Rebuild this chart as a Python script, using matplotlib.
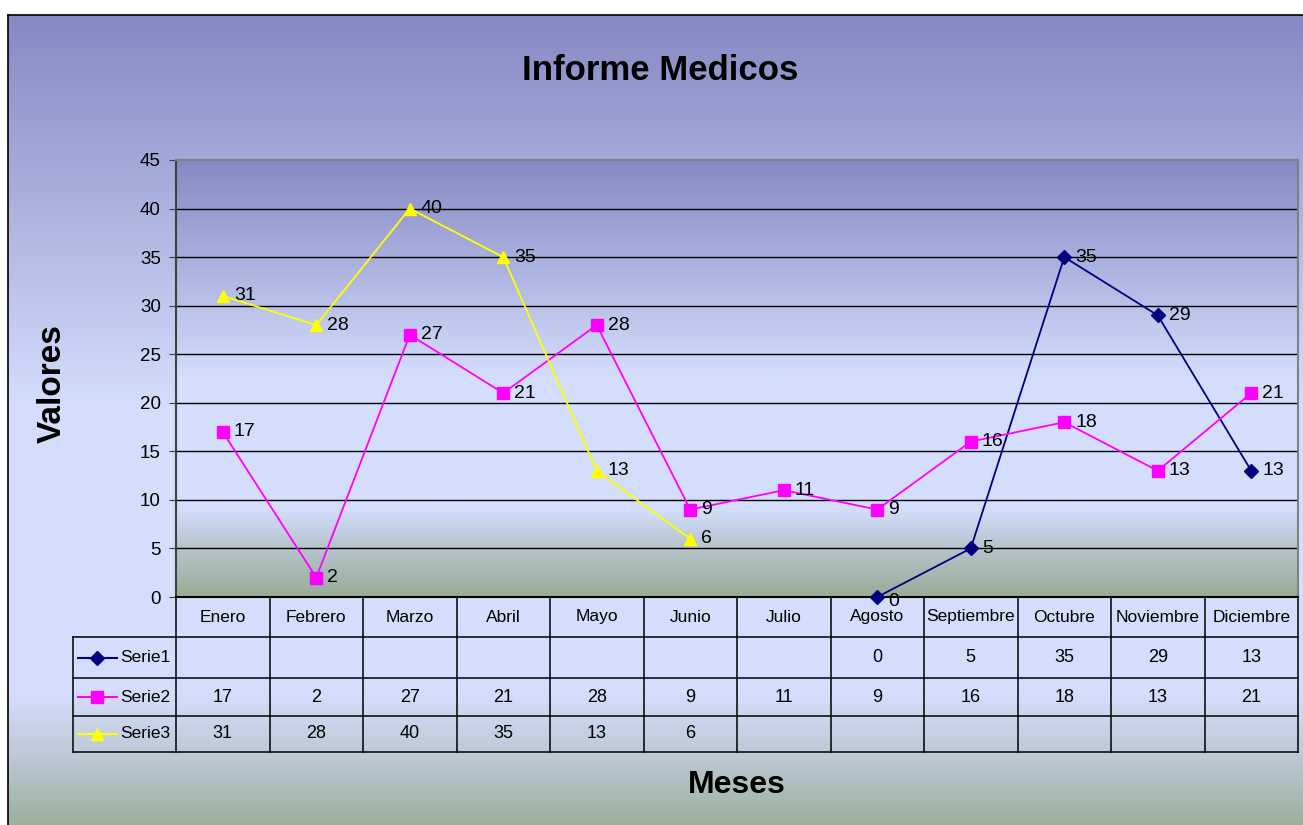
import numpy as np
import matplotlib.pyplot as plt
from matplotlib.colors import LinearSegmentedColormap

meses = ["Enero", "Febrero", "Marzo", "Abril", "Mayo", "Junio", "Julio",
         "Agosto", "Septiembre", "Octubre", "Noviembre", "Diciembre"]
serie1 = [None, None, None, None, None, None, None, 0, 5, 35, 29, 13]
serie2 = [17, 2, 27, 21, 28, 9, 11, 9, 16, 18, 13, 21]
serie3 = [31, 28, 40, 35, 13, 6, None, None, None, None, None, None]
nombres = ["Serie1", "Serie2", "Serie3"]
colores = ["#000080", "#FF00FF", "#FFFF00"]
marcadores = ["D", "s", "^"]
yticks = [0, 5, 10, 15, 20, 25, 30, 35, 40, 45]

plt.rcParams["font.family"] = ["Liberation Sans", "DejaVu Sans"]

W, H = 1303, 825
fig = plt.figure(figsize=(W / 100, H / 100), dpi=100)
fig.patch.set_facecolor("white")


def fx(px):
    return px / W


def fy(py):
    return 1 - py / H


# fondo exterior con degradado
bg = fig.add_axes([fx(8), -0.01, 1 - fx(8) + 0.01, fy(15) + 0.01])
cm_out = LinearSegmentedColormap.from_list(
    "out", [(0, "#8689C3"), (0.48, "#D4DEFC"), (0.83, "#D4DEFC"),
            (0.91, "#BCC8D4"), (1.0, "#98AE98")])
bg.imshow(np.linspace(0, 1, 256).reshape(-1, 1), cmap=cm_out, aspect="auto",
          extent=[0, 1, 0, 1])
bg.set_xlim(0, 1)
bg.set_ylim(0, 1)
bg.set_xticks([])
bg.set_yticks([])
for s in bg.spines.values():
    s.set_color("black")
    s.set_linewidth(1.2)
bg.set_zorder(0)

# area de trazado
px0, px1, py0, py1 = 176, 1298, 160, 597
ax = fig.add_axes([fx(px0), fy(py1), fx(px1 - px0), (py1 - py0) / H])
ax.set_zorder(2)
cm_in = LinearSegmentedColormap.from_list(
    "in", [(0, "#8689C3"), (0.5, "#D4DEFC"), (0.8, "#D4DEFC"),
           (0.88, "#B8C6D0"), (1.0, "#98AD98")])
ax.imshow(np.linspace(0, 1, 256).reshape(-1, 1), cmap=cm_in, aspect="auto",
          extent=[0, 1, 0, 1], transform=ax.transAxes, zorder=0)

x = np.arange(len(meses))
for vals, nom, col, mk in zip([serie1, serie2, serie3], nombres, colores, marcadores):
    xs = [i for i, v in zip(x, vals) if v is not None]
    ys = [v for v in vals if v is not None]
    ms = 7 if mk == "D" else 8
    ax.plot(xs, ys, color=col, marker=mk, markersize=ms, linewidth=1.3,
            zorder=4, clip_on=False)
    for xi, yi in zip(xs, ys):
        dy = -3 if yi == 0 else 0
        ax.annotate(str(yi), (xi, yi), xytext=(8, dy), textcoords="offset points",
                    ha="left", va="center", fontsize=14, zorder=5)

ax.set_xlim(-0.5, len(meses) - 0.5)
ax.set_ylim(0, 45)
ax.set_yticks(yticks)
ax.set_yticklabels([str(t) for t in yticks], fontsize=13.5)
ax.set_xticks([])
for t in yticks[1:-1]:
    ax.axhline(t, color="black", linewidth=1, zorder=1)
ax.tick_params(axis="y", direction="out", length=5, color="#404040", pad=6)
ax.spines["left"].set_color("#404040")
ax.spines["bottom"].set_color("black")
ax.spines["top"].set_color("#808080")
ax.spines["right"].set_color("#808080")
for s in ax.spines.values():
    s.set_linewidth(1.5)
ax.set_facecolor("none")

# tabla de datos
tx0, ty0, ty1 = 73, 597, 752
ax_t = fig.add_axes([fx(tx0), fy(ty1), fx(px1 - tx0), (ty1 - ty0) / H])
ax_t.set_zorder(1)
ax_t.set_facecolor("none")
ax_t.axis("off")
lab_w = (px0 - tx0) / ((px1 - px0) / len(meses))
xl = -0.5 - lab_w
xr = len(meses) - 0.5
ax_t.set_xlim(xl, xr)
ax_t.set_ylim(ty1, ty0)
rows = [597, 637, 678, 716, 752]

lw = 1.1
for r in rows[1:]:
    ax_t.plot([xl, xr], [r, r], color="black", linewidth=lw, clip_on=False)
for i in range(len(meses) + 1):
    ax_t.plot([i - 0.5, i - 0.5], [rows[0], rows[-1]], color="black",
              linewidth=lw, clip_on=False)
ax_t.plot([xl, xl], [rows[1], rows[-1]], color="black", linewidth=lw, clip_on=False)

mid = [(rows[k] + rows[k + 1]) / 2 for k in range(4)]
for i, m in enumerate(meses):
    ax_t.text(i, mid[0], m, ha="center", va="center", fontsize=12.5)
for k, (vals, nom, col, mk) in enumerate(zip([serie1, serie2, serie3], nombres,
                                             colores, marcadores)):
    yr = mid[k + 1]
    ax_t.plot([xl + 0.05, xl + 0.47], [yr, yr], color=col, linewidth=1.5)
    ax_t.plot([xl + 0.26], [yr], color=col, marker=mk,
              markersize=7 if mk == "D" else 8, linestyle="none")
    ax_t.text(xl + 0.51, yr, nom, ha="left", va="center", fontsize=12.5)
    for i, v in enumerate(vals):
        if v is not None:
            ax_t.text(i, yr, str(v), ha="center", va="center", fontsize=13)

# titulos
fig.text(fx(660), fy(70), "Informe Medicos", ha="center", va="center",
         fontsize=25, fontweight="bold")
fig.text(fx(737), fy(785), "Meses", ha="center", va="center",
         fontsize=23, fontweight="bold")
fig.text(fx(52), fy(384), "Valores", ha="center", va="center", rotation=90,
         fontsize=24, fontweight="bold")

fig.savefig("out.png", dpi=100)
